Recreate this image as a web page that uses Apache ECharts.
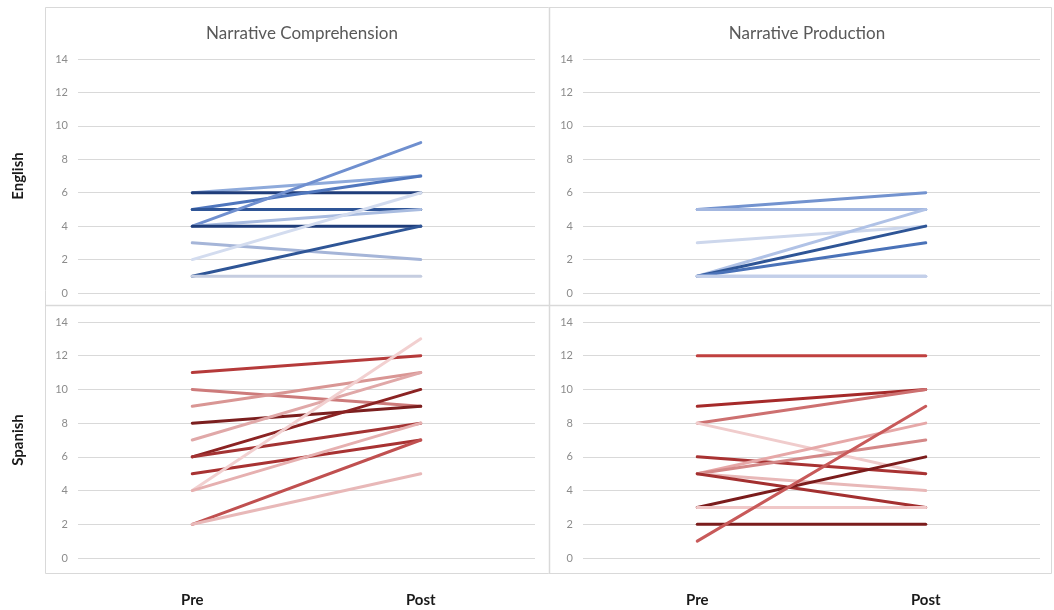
<!DOCTYPE html>
<html>
<head>
<meta charset="utf-8">
<script src="https://cdn.jsdelivr.net/npm/echarts@6/dist/echarts.min.js"></script>
<style>
html,body{margin:0;padding:0;background:#fff;}
#chart{width:1054px;height:610px;}
</style>
</head>
<body>
<div id="chart"></div>
<script>
// ---- data ----
const categories = ['Pre', 'Post'];
const panelTitles = ['Narrative Comprehension', 'Narrative Production'];
const rowLabels = ['English', 'Spanish'];
const yTicks = [0, 2, 4, 6, 8, 10, 12, 14];

// English – Narrative Comprehension
const engCompPre  = [6, 6, 5, 5, 4, 4, 4, 3, 2, 1, 1];
const engCompPost = [7, 6, 7, 5, 9, 5, 4, 2, 6, 4, 1];
// English – Narrative Production
const engProdPre  = [5, 5, 5, 3, 1, 1, 1, 1, 1];
const engProdPost = [6, 5, 5, 4, 5, 4, 3, 1, 1];
// Spanish – Narrative Comprehension
const spaCompPre  = [11, 10, 9, 8, 7, 6, 6, 5, 4, 4, 2, 2];
const spaCompPost = [12, 9, 11, 9, 11, 10, 8, 7, 13, 8, 7, 5];
// Spanish – Narrative Production
const spaProdPre  = [12, 9, 8, 8, 6, 5, 5, 5, 5, 3, 3, 2, 1];
const spaProdPost = [12, 10, 10, 5, 5, 8, 7, 4, 3, 6, 3, 2, 9];

// ---- styles ----
const engCompColors = ['#8eaadb', '#1f3d7a', '#4f76bd', '#2f5597', '#6f8fcf', '#a9bce0', '#1f3d7a', '#a5b5d8', '#d3dcef', '#2e5596', '#c5cde0'];
const engProdColors = ['#7393cf', '#8eaadb', '#a3b7e0', '#cdd7ec', '#b0c2e6', '#2e5596', '#4a72b8', '#b8c6e6', '#c3cfe9'];
const spaCompColors = ['#b53a3a', '#cd7b7b', '#d99694', '#7b1f1f', '#e0a8a8', '#8b2323', '#a33333', '#a83232', '#f2d0d0', '#e6b0b0', '#c05050', '#e8b8b8'];
const spaProdColors = ['#c0403f', '#a52a2a', '#cd7070', '#f0cccc', '#a83232', '#e6a8a8', '#d48888', '#e8b8b8', '#a33030', '#7b1c1c', '#f0c8c8', '#7b1c1c', '#c85a5a'];

const panels = [
  { pre: engCompPre, post: engCompPost, colors: engCompColors },
  { pre: engProdPre, post: engProdPost, colors: engProdColors },
  { pre: spaCompPre, post: spaCompPost, colors: spaCompColors },
  { pre: spaProdPre, post: spaProdPost, colors: spaProdColors }
];

const FONT = 'Lato, "Open Sans", sans-serif';
const gridDefs = [
  { left: 78, top: 59, width: 457, height: 234 },
  { left: 583, top: 59, width: 457, height: 234 },
  { left: 78, top: 322, width: 457, height: 236 },
  { left: 583, top: 322, width: 457, height: 236 }
];

const xAxes = gridDefs.map((g, i) => ({
  type: 'category',
  gridIndex: i,
  data: categories,
  boundaryGap: true,
  axisLine: { show: false },
  axisTick: { show: false },
  axisLabel: {
    show: i >= 2,
    margin: 35,
    fontFamily: FONT,
    fontSize: 15,
    fontWeight: 'bold',
    color: '#1a1a1a'
  }
}));

const yAxes = gridDefs.map((g, i) => ({
  type: 'value',
  gridIndex: i,
  min: yTicks[0],
  max: yTicks[yTicks.length - 1],
  interval: 2,
  name: (i % 2 === 0) ? rowLabels[i / 2] : '',
  nameLocation: 'middle',
  nameRotate: 90,
  nameGap: 52,
  nameTextStyle: { fontFamily: FONT, fontSize: 15, fontWeight: 'bold', color: '#1a1a1a' },
  axisLine: { show: false },
  axisTick: { show: false },
  axisLabel: { fontFamily: FONT, fontSize: 11, color: '#8c8c8c', margin: 10 },
  splitLine: { lineStyle: { color: '#d9d9d9', width: 1 } }
}));

const series = [];
panels.forEach((p, gi) => {
  p.pre.forEach((v, k) => {
    series.push({
      type: 'line',
      xAxisIndex: gi,
      yAxisIndex: gi,
      data: [v, p.post[k]],
      symbol: 'none',
      silent: true,
      lineStyle: { color: p.colors[k], width: 3, cap: 'round' }
    });
  });
});

const chart = echarts.init(document.getElementById('chart'), null, { renderer: 'canvas' });
chart.setOption({
  animation: false,
  backgroundColor: '#ffffff',
  title: [
    { text: panelTitles[0], left: 297, top: 20, textAlign: 'center', textStyle: { fontFamily: FONT, fontSize: 17, fontWeight: 'normal', color: '#595959' } },
    { text: panelTitles[1], left: 802, top: 20, textAlign: 'center', textStyle: { fontFamily: FONT, fontSize: 17, fontWeight: 'normal', color: '#595959' } }
  ],
  grid: gridDefs,
  xAxis: xAxes,
  yAxis: yAxes,
  series: series,
  graphic: [
    { type: 'rect', shape: { x: 45.5, y: 7.5, width: 1006, height: 566 }, style: { fill: 'none', stroke: '#d9d9d9', lineWidth: 1 }, silent: true },
    { type: 'line', shape: { x1: 549.5, y1: 7.5, x2: 549.5, y2: 573.5 }, style: { stroke: '#d9d9d9', lineWidth: 1.5 }, silent: true },
    { type: 'line', shape: { x1: 45.5, y1: 305.5, x2: 1051.5, y2: 305.5 }, style: { stroke: '#d9d9d9', lineWidth: 1.5 }, silent: true }
  ]
});
</script>
</body>
</html>
